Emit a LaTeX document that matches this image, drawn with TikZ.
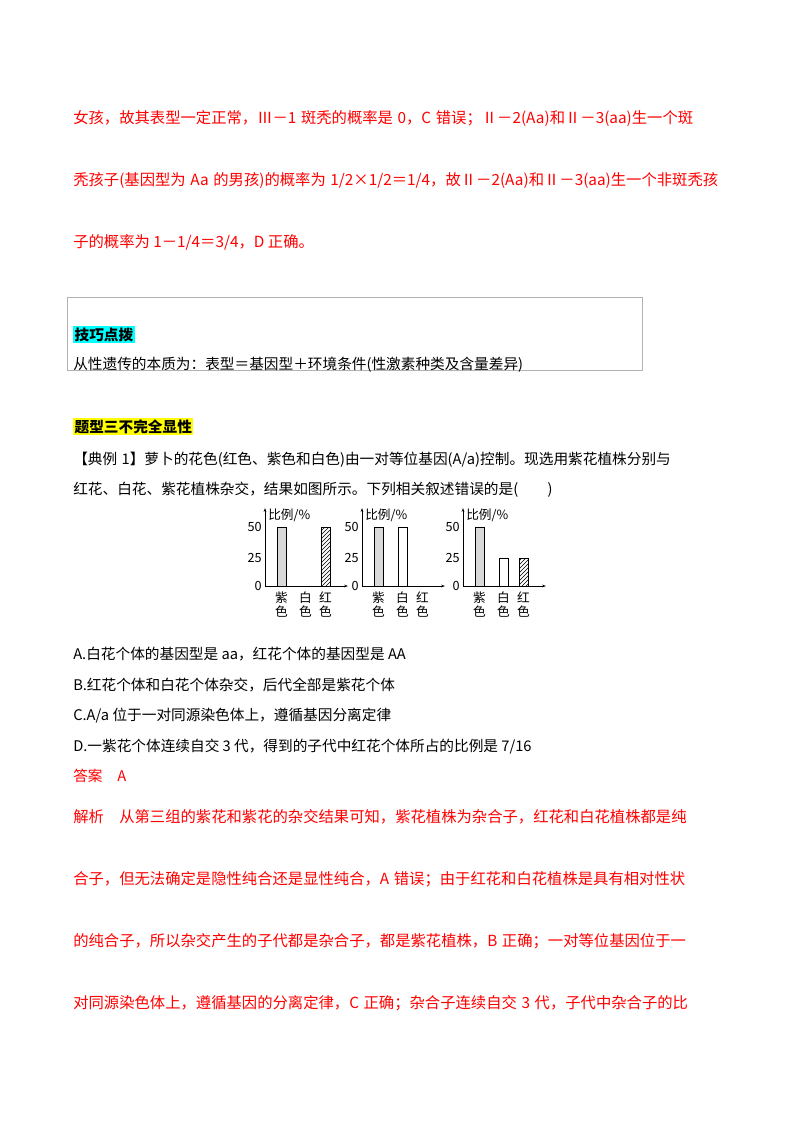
\documentclass[tikz,border=0pt]{standalone}
\usepackage{fontspec}
\setmainfont{Noto Sans CJK SC}
\usetikzlibrary{patterns,arrows.meta}
\XeTeXlinebreaklocale "zh"
\XeTeXlinebreakskip=0pt plus 3pt
\definecolor{rd}{RGB}{255,0,0}
\definecolor{cy}{RGB}{0,255,255}
\definecolor{yl}{RGB}{255,255,0}
\newcommand{\jl}[1]{\hbox to 490.5pt{\spaceskip=0.3em plus 0pt minus 0pt\relax #1}}
\tikzset{
 rl/.style={anchor=base west,inner sep=0pt,text=rd,font=\fontsize{11.5}{12}\selectfont},
 bl/.style={anchor=base west,inner sep=0pt,font=\fontsize{11}{12}\selectfont},
 ax/.style={line width=0.5pt,-{Stealth[length=3pt,width=2pt]}},
 bar/.style={draw,line width=0.5pt},
 sm/.style={inner sep=0pt,font=\fontsize{9.5}{10}\selectfont},
}
\newcommand{\chart}[4]{%
 \begin{scope}[shift={(#1,0)}]
  \draw[ax] (0,586) coordinate (o#4) -- (0,508);
  \draw[ax] (o#4) -- (83,586);
  \node[sm,anchor=east] at (-3,586) {0};
  \node[sm,anchor=east] at (-3,558) {25};
  \node[sm,anchor=east] at (-3,527) {50};
  \node[sm,anchor=west] at (3,515) {比例/\%};
  \draw[bar,fill=black!15] (12,586) rectangle (21,527);
  #2
  #3
  \node[sm,align=center,anchor=north] at (16.5,592) {紫\\色};
  \node[sm,align=center,anchor=north] at (40.5,592) {白\\色};
  \node[sm,align=center,anchor=north] at (60.5,592) {红\\色};
 \end{scope}}
\begin{document}
\begin{tikzpicture}[x=0.75pt,y=-0.75pt]
\useasboundingbox (0,0) rectangle (800,1132);
\node[rl] (l1) at (73,123) {\jl{女孩，故其表型一定正常，Ⅲ－1 斑秃的概率是 0，C 错误；Ⅱ－2(Aa)和Ⅱ－3(aa)生一个斑}};
\node[rl] (l2) at (73,185) {\jl{秃孩子(基因型为 Aa 的男孩)的概率为 1/2×1/2＝1/4，故Ⅱ－2(Aa)和Ⅱ－3(aa)生一个非斑秃孩}};
\node[rl] (l3) at (73,247) {子的概率为 1－1/4＝3/4，D 正确。};
\draw[black!30,line width=0.6pt] (67,297) rectangle (642,370);
\node[bl,fill=cy,inner sep=1pt,font=\bfseries\fontsize{11}{12}\selectfont] (h1) at (73,340) {技巧点拨};
\node[bl] (t1) at (73,369) {从性遗传的本质为：表型＝基因型＋环境条件(性激素种类及含量差异)};
\node[bl,fill=yl,inner sep=1pt,font=\bfseries\fontsize{11}{12}\selectfont] (h2) at (73,432) {题型三不完全显性};
\node[bl] (q1) at (73,464) {\jl{【典例 1】萝卜的花色(红色、紫色和白色)由一对等位基因(A/a)控制。现选用紫花植株分别与}};
\node[bl] (q2) at (73,494) {红花、白花、紫花植株杂交，结果如图所示。下列相关叙述错误的是(　　)};
\chart{265}{}{\draw[bar,pattern=north east lines] (56,586) rectangle (65,527);}{a}
\chart{362}{\draw[bar,fill=white] (36,586) rectangle (45,527);}{}{b}
\chart{463}{\draw[bar,fill=white] (36,586) rectangle (45,558);}{\draw[bar,pattern=north east lines] (56,586) rectangle (65,558);}{c}
\node[bl] (oa) at (73,659) {A.白花个体的基因型是 aa，红花个体的基因型是 AA};
\node[bl] (ob) at (73,690) {B.红花个体和白花个体杂交，后代全部是紫花个体};
\node[bl] (oc) at (73,720) {C.A/a 位于一对同源染色体上，遵循基因分离定律};
\node[bl] (od) at (73,751) {D.一紫花个体连续自交 3 代，得到的子代中红花个体所占的比例是 7/16};
\node[bl,text=rd] (an) at (73,781) {答案\quad A};
\node[rl] (j1) at (73,822) {\jl{解析\quad 从第三组的紫花和紫花的杂交结果可知，紫花植株为杂合子，红花和白花植株都是纯}};
\node[rl] (j2) at (73,884) {\jl{合子，但无法确定是隐性纯合还是显性纯合，A 错误；由于红花和白花植株是具有相对性状}};
\node[rl] (j3) at (73,946) {\jl{的纯合子，所以杂交产生的子代都是杂合子，都是紫花植株，B 正确；一对等位基因位于一}};
\node[rl] (j4) at (73,1008) {\jl{对同源染色体上，遵循基因的分离定律，C 正确；杂合子连续自交 3 代，子代中杂合子的比}};
\end{tikzpicture}
\end{document}
